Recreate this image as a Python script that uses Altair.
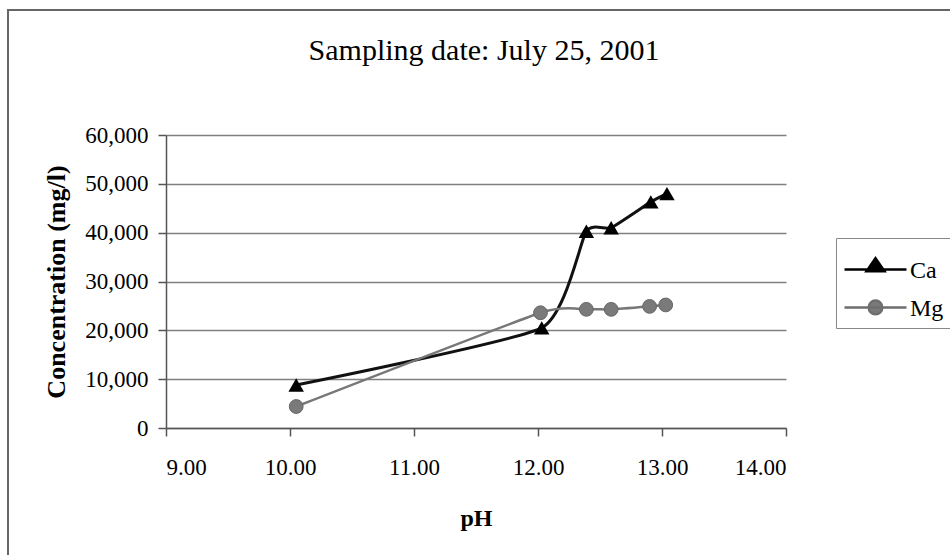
import altair as alt
import pandas as pd

# ---- data ----
series_names = ["Ca", "Mg"]
ph_ca = [10.05, 12.03, 12.39, 12.59, 12.91, 13.04]
conc_ca = [8800, 20500, 40300, 41000, 46300, 48000]
ph_mg = [10.05, 12.02, 12.39, 12.59, 12.90, 13.03]
conc_mg = [4400, 23600, 24300, 24300, 24900, 25200]
x_ticks = [9, 10, 11, 12, 13, 14]
y_ticks = [0, 10000, 20000, 30000, 40000, 50000, 60000]

df = pd.DataFrame(
    {
        "series": ["Ca"] * len(ph_ca) + ["Mg"] * len(ph_mg),
        "ph": ph_ca + ph_mg,
        "conc": conc_ca + conc_mg,
    }
)

FONT = "Liberation Serif"
W, H = 620, 293
PAD_L, PAD_T = 166, 135

x_enc = alt.X(
    "ph:Q",
    scale=alt.Scale(domain=[9, 14], nice=False, zero=False),
    axis=alt.Axis(
        title="pH",
        values=x_ticks,
        format=".2f",
        grid=False,
        tickSize=8,
        labelPadding=20,
        titlePadding=27,
        titleFontSize=24,
    ),
)
y_enc = alt.Y(
    "conc:Q",
    scale=alt.Scale(domain=[0, 60000], nice=False),
    axis=alt.Axis(
        title="Concentration (mg/l)",
        values=y_ticks,
        format=",d",
        grid=True,
        tickSize=8,
        labelPadding=10,
        titlePadding=15,
        titleFontSize=26,
    ),
)

base = alt.Chart(df)
CURVE = "cardinal"
TENSION = 0.5

ca_line = base.transform_filter(alt.datum.series == "Ca").mark_line(
    color="#111111", strokeWidth=3, interpolate=CURVE, tension=TENSION
).encode(x=x_enc, y=y_enc)
ca_pts = base.transform_filter(alt.datum.series == "Ca").mark_point(
    shape="triangle-up", filled=True, size=240, color="#000000", opacity=1
).encode(x=x_enc, y=y_enc)
mg_line = base.transform_filter(alt.datum.series == "Mg").mark_line(
    color="#777777", strokeWidth=2.5, interpolate=CURVE, tension=TENSION
).encode(x=x_enc, y=y_enc)
mg_pts = base.transform_filter(alt.datum.series == "Mg").mark_point(
    shape="circle", filled=True, size=190, color="#7a7a7a", opacity=1,
    stroke="#666666", strokeWidth=1
).encode(x=x_enc, y=y_enc)

# legend symbols: a line with the marker on it (unit = 31 px)
tri_path = "M-1,-0.26H1M0,-0.62L0.29,-0.2H-0.29Z"
circ_path = (
    "M-1,-0.26H1M0.22,-0.26A0.22,0.22,0,1,1,-0.22,-0.26"
    "A0.22,0.22,0,1,1,0.22,-0.26Z"
)
leg = alt.Legend(
    title=None,
    orient="none",
    legendX=670,
    legendY=103,
    symbolSize=3844,
    symbolStrokeWidth=2.5,
    symbolOpacity=1,
    labelFont=FONT,
    labelFontSize=24,
    labelColor="#000000",
    labelOffset=2,
    labelBaseline="alphabetic",
    rowPadding=-9,
    strokeColor="#888888",
    fillColor="#ffffff",
    padding=7,
)
legend_layer = base.mark_point(filled=True, opacity=0).encode(
    x=x_enc,
    y=y_enc,
    shape=alt.Shape(
        "series:N",
        scale=alt.Scale(domain=series_names, range=[tri_path, circ_path]),
        legend=leg,
    ),
    fill=alt.Fill(
        "series:N",
        scale=alt.Scale(domain=series_names, range=["#000000", "#7a7a7a"]),
        legend=leg,
    ),
    stroke=alt.Stroke(
        "series:N",
        scale=alt.Scale(domain=series_names, range=["#000000", "#6e6e6e"]),
        legend=leg,
    ),
)

frame = alt.Chart(pd.DataFrame({"k": [0]})).mark_rect(
    fillOpacity=0, stroke="#666666", strokeWidth=2
).encode(
    x=alt.value(8 - PAD_L),
    x2=alt.value(W + 200),
    y=alt.value(10 - PAD_T),
    y2=alt.value(H + 200),
)

chart = (
    alt.layer(frame, ca_line, ca_pts, mg_line, mg_pts, legend_layer)
    .properties(
        width=W,
        height=H,
        title=alt.TitleParams(
            "Sampling date: July 25, 2001",
            font=FONT,
            fontSize=30,
            fontWeight="normal",
            color="#000000",
            anchor="middle",
            dx=8,
            offset=-57,
        ),
        autosize=alt.AutoSizeParams(type="none"),
        padding={"left": PAD_L, "top": PAD_T, "right": 950 - PAD_L - W, "bottom": 555 - PAD_T - H},
    )
    .configure(background="#ffffff", font=FONT)
    .configure_title(font=FONT, fontSize=30, fontWeight="normal", color="#000000")
    .configure_view(stroke=None)
    .configure_axis(
        labelFont=FONT,
        labelFontSize=23,
        labelColor="#000000",
        titleFont=FONT,
        titleFontWeight="bold",
        titleColor="#000000",
        domainColor="#555555",
        domainWidth=1.5,
        tickColor="#555555",
        tickWidth=1.5,
        gridColor="#808080",
        gridWidth=1.5,
    )
)

chart.save("out.html", embed_options={"renderer": "svg", "actions": False})
